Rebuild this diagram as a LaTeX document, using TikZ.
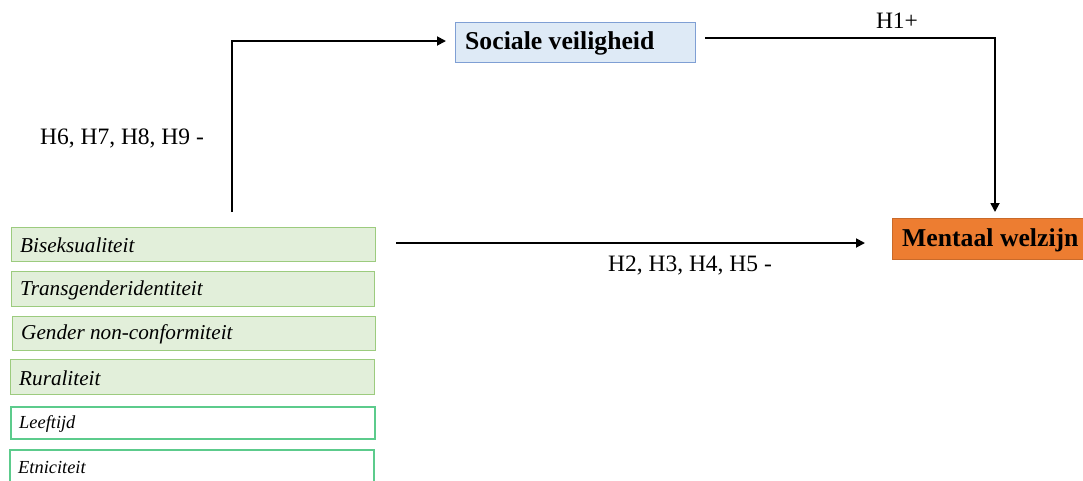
\documentclass[tikz,border=0pt]{standalone}
\usepackage{fontspec}
\setmainfont{Liberation Serif}
\usetikzlibrary{arrows.meta}
\definecolor{bluefill}{HTML}{DEEAF6}
\definecolor{blueline}{HTML}{7F9FD4}
\definecolor{orangefill}{HTML}{ED7D31}
\definecolor{greenfill}{HTML}{E2EFDA}
\definecolor{greenline}{HTML}{9CCB7E}
\definecolor{ctrlline}{HTML}{5CCB8C}
\tikzset{
  x=1pt, y=-1pt,
  conn/.style={line width=1.8pt, -{Triangle[length=9pt,width=9pt]}},
  predbox/.style={draw=greenline, fill=greenfill, line width=1pt},
  ctrlbox/.style={draw=ctrlline, fill=white, line width=1.3pt},
  lab/.style={font=\fontsize{23.5}{26}\selectfont, inner sep=0pt},
  heading/.style={anchor=west, inner sep=0pt, font=\fontsize{25.7}{28}\selectfont\bfseries},
  predtext/.style={anchor=west, inner sep=0pt, font=\fontsize{21.2}{24}\selectfont\itshape},
  ctrltext/.style={anchor=west, inner sep=0pt, font=\fontsize{18.4}{21}\selectfont\itshape}
}
\begin{document}
\begin{tikzpicture}
\useasboundingbox (0,0) rectangle (1083,480);
% mediator and outcome
\draw[draw=blueline, fill=bluefill, line width=0.9pt] (455,22) rectangle (695,62);
\node[heading] (soc) at (465,43) {Sociale veiligheid};
\draw[draw=orangefill!85!black, fill=orangefill, line width=0.6pt] (892,218) rectangle (1085,259);
\node[heading] (men) at (902,240) {Mentaal welzijn};
% predictors
\draw[predbox] (11,227) rectangle (375,261);
\node[predtext] (p1) at (20,245) {Biseksualiteit};
\draw[predbox] (11,271) rectangle (374,306);
\node[predtext] (p2) at (20,290) {Transgenderidentiteit};
\draw[predbox] (12,316) rectangle (375,350);
\node[predtext] (p3) at (21,334) {Gender non-conformiteit};
\draw[predbox] (10,359) rectangle (374,394);
\node[predtext] (p4) at (19,378) {Ruraliteit};
% controls
\draw[ctrlbox] (11,407) rectangle (375,439);
\node[ctrltext] (c1) at (19,424) {Leeftijd};
\draw[ctrlbox] (10,450) rectangle (374,486);
\node[ctrltext] (c2) at (18,467) {Etniciteit};
% paths
\coordinate (a0) at (232,212);
\coordinate (a1) at (232,41);
\coordinate (a2) at (446,41);
\draw[conn] (a0) -- (a1) -- (a2);
\coordinate (b0) at (705,38);
\coordinate (b1) at (995,38);
\coordinate (b2) at (995,212);
\draw[conn] (b0) -- (b1) -- (b2);
\coordinate (d0) at (396,243);
\coordinate (d1) at (865,243);
\draw[conn] (d0) -- (d1);
% path labels
\node[lab] (l1) at (897,21) {H1+};
\node[lab] (l2) at (122,138) {H6, H7, H8, H9 -};
\node[lab] (l3) at (690,266) {H2, H3, H4, H5 -};
\end{tikzpicture}
\end{document}
